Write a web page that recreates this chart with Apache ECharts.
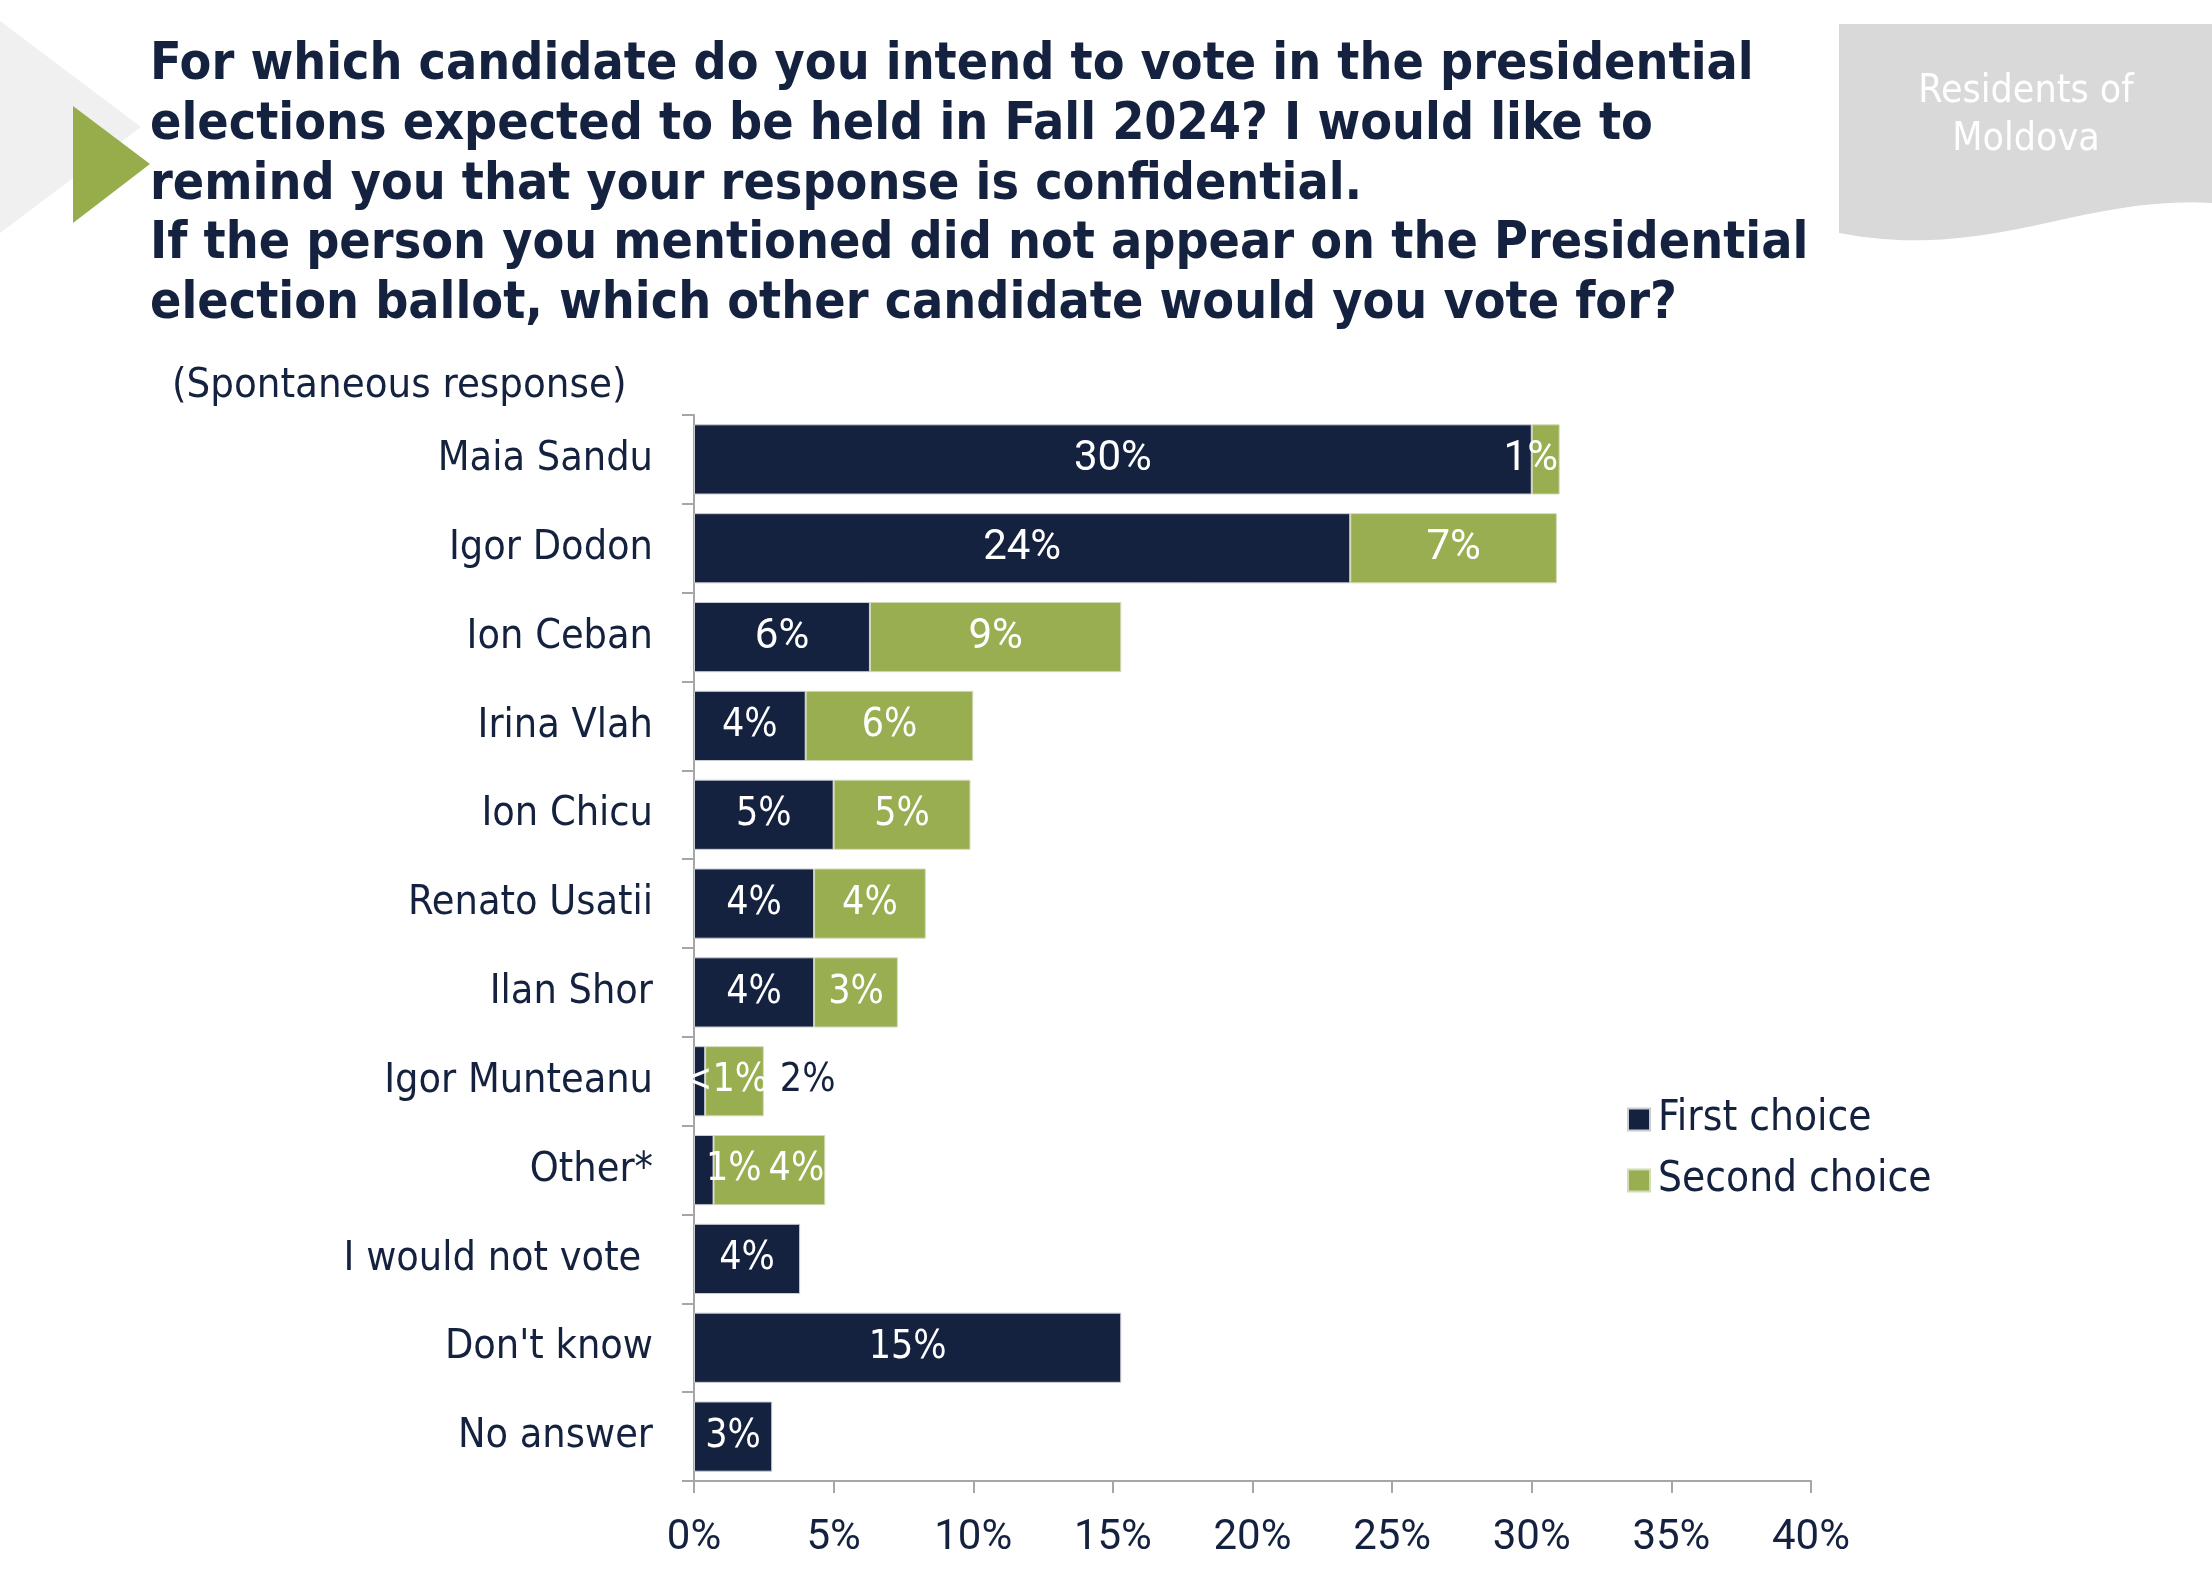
<!DOCTYPE html>
<html>
<head>
<meta charset="utf-8">
<script src="https://cdn.jsdelivr.net/npm/echarts@6/dist/echarts.min.js"></script>
<style>
  html, body { margin: 0; padding: 0; background: #ffffff; }
  #chart { width: 2212px; height: 1578px; }
</style>
</head>
<body>
<div id="chart"></div>
<script>
// ---- Data ----
const categories = ['Maia Sandu', 'Igor Dodon', 'Ion Ceban', 'Irina Vlah', 'Ion Chicu', 'Renato Usatii',
  'Ilan Shor', 'Igor Munteanu', 'Other*', 'I would not vote ', "Don't know", 'No answer'];
const firstChoice  = [30.0, 23.5, 6.3, 4.0, 5.0, 4.3, 4.3, 0.4, 0.7, 3.8, 15.3, 2.8];
const secondChoice = [1.0, 7.4, 9.0, 6.0, 4.9, 4.0, 3.0, 2.1, 4.0, null, null, null];
const firstLabels  = ['30%', '24%', '6%', '4%', '5%', '4%', '4%', '<1%', '1%', '4%', '15%', '3%'];
const secondLabels = ['1%', '7%', '9%', '6%', '5%', '4%', '3%', '2%', '4%', '', '', ''];
const xTickLabels  = ['0%', '5%', '10%', '15%', '20%', '25%', '30%', '35%', '40%'];
const seriesNames  = ['First choice', 'Second choice'];
const titleLines = [
  'For which candidate do you intend to vote in the presidential',
  'elections expected to be held in Fall 2024? I would like to',
  'remind you that your response is confidential.',
  'If the person you mentioned did not appear on the Presidential',
  'election ballot, which other candidate would you vote for?'
];
const subtitleText = '(Spontaneous response)';
const badgeText = 'Residents of\nMoldova';

// ---- Styles ----
const NAVY = '#15223F';
const GREEN = '#98AE50';
const FONT = '"DejaVu Sans Condensed", "Noto Sans", sans-serif';
const NARROW = 'Roboto, "DejaVu Sans Condensed", sans-serif';

// per-category label tweaks (layout only)
const firstLabelStyle = {
  'Maia Sandu': { fontFamily: NARROW, fontSize: 42 },
  'Igor Dodon': { fontFamily: NARROW, fontSize: 42 },
  'Ion Ceban': { fontFamily: NARROW, fontSize: 42 },
  'Igor Munteanu': { offset: [26, 0] },
  'Other*': { offset: [30, 0] }
};
const secondLabelStyle = {
  'Maia Sandu': { fontFamily: NARROW, fontSize: 42, offset: [-15, 0] },
  'Igor Dodon': { fontFamily: NARROW, fontSize: 42 },
  'Ion Ceban': { fontFamily: NARROW, fontSize: 42 },
  'Igor Munteanu': { position: 'right', distance: 16, color: NAVY },
  'Other*': { offset: [27, 0] }
};

function buildData(values, labels, styleMap) {
  return values.map((v, i) => {
    const s = styleMap[categories[i]] || {};
    return {
      value: v,
      label: Object.assign({ formatter: labels[i] }, s)
    };
  });
}

// wavy badge outline (decoration)
function badgePoints() {
  const pts = [[1839, 24], [2212, 24], [2212, 203]];
  const p0 = [2212, 203], c1 = [2080, 195], c2 = [1990, 262], p3 = [1839, 233];
  for (let t = 0; t <= 1.0001; t += 0.05) {
    const u = 1 - t;
    pts.push([
      u*u*u*p0[0] + 3*u*u*t*c1[0] + 3*u*t*t*c2[0] + t*t*t*p3[0],
      u*u*u*p0[1] + 3*u*u*t*c1[1] + 3*u*t*t*c2[1] + t*t*t*p3[1]
    ]);
  }
  return pts;
}

const chart = echarts.init(document.getElementById('chart'), null, { renderer: 'canvas' });

const option = {
  backgroundColor: '#ffffff',
  animation: false,
  title: [
    {
      text: titleLines.join('\n'),
      left: 150, top: 36, padding: 0,
      textStyle: { fontFamily: FONT, fontWeight: 'bold', fontSize: 51.5, lineHeight: 59.7, color: NAVY }
    },
    {
      text: subtitleText,
      left: 172, top: 365, padding: 0,
      textStyle: { fontFamily: FONT, fontWeight: 'normal', fontSize: 41.5, color: NAVY }
    }
  ],
  graphic: [
    { type: 'polygon', z: -10, shape: { points: [[0, 21], [141, 127], [0, 233]] }, style: { fill: '#F0F0F0' } },
    { type: 'polygon', z: -5, shape: { points: [[73, 106], [150, 164], [73, 223]] }, style: { fill: '#97AD4C' } },
    { type: 'polygon', z: -10, shape: { points: badgePoints() }, style: { fill: '#D9D9D9' } },
    {
      type: 'text', left: 2026 - 130, top: 68, z: 10,
      style: { text: badgeText, fill: '#ffffff', font: '39px ' + FONT, textAlign: 'center', lineHeight: 48, width: 260 }
    }
  ],
  legend: {
    orient: 'vertical',
    left: 1627, top: 1098, padding: 0,
    itemWidth: 22, itemHeight: 22, itemGap: 18,
    icon: 'rect',
    data: seriesNames,
    textStyle: { fontFamily: FONT, fontSize: 42, color: NAVY, lineHeight: 43, padding: [0, 0, 0, 3] }
  },
  grid: { left: 694, right: 401, top: 415, bottom: 97, containLabel: false },
  xAxis: {
    type: 'value', min: 0, max: 40, interval: 5,
    axisLine: { show: true, lineStyle: { color: '#A6A6A6', width: 2 } },
    axisTick: { show: true, length: 12, lineStyle: { color: '#A6A6A6', width: 2 } },
    splitLine: { show: false },
    axisLabel: {
      margin: 36, color: NAVY, fontFamily: NARROW, fontSize: 42,
      formatter: (v) => xTickLabels[Math.round(v / 5)]
    }
  },
  yAxis: {
    type: 'category', inverse: true, data: categories,
    axisLine: { show: true, lineStyle: { color: '#A6A6A6', width: 2 } },
    axisTick: { show: true, length: 12, inside: false, lineStyle: { color: '#A6A6A6', width: 2 } },
    axisLabel: { margin: 41, color: NAVY, fontFamily: FONT, fontSize: 41 }
  },
  series: [
    {
      name: seriesNames[0], type: 'bar', stack: 'total', barCategoryGap: '21%',
      itemStyle: { color: NAVY, borderColor: '#C9CCD3', borderWidth: 1 },
      label: { show: true, position: 'inside', color: '#ffffff', fontFamily: FONT, fontSize: 39 },
      data: buildData(firstChoice, firstLabels, firstLabelStyle)
    },
    {
      name: seriesNames[1], type: 'bar', stack: 'total', barCategoryGap: '21%',
      itemStyle: { color: GREEN, borderColor: '#D3DBB8', borderWidth: 1 },
      label: { show: true, position: 'inside', color: '#ffffff', fontFamily: FONT, fontSize: 39 },
      data: buildData(secondChoice, secondLabels, secondLabelStyle)
    }
  ]
};

chart.setOption(option);
</script>
</body>
</html>
